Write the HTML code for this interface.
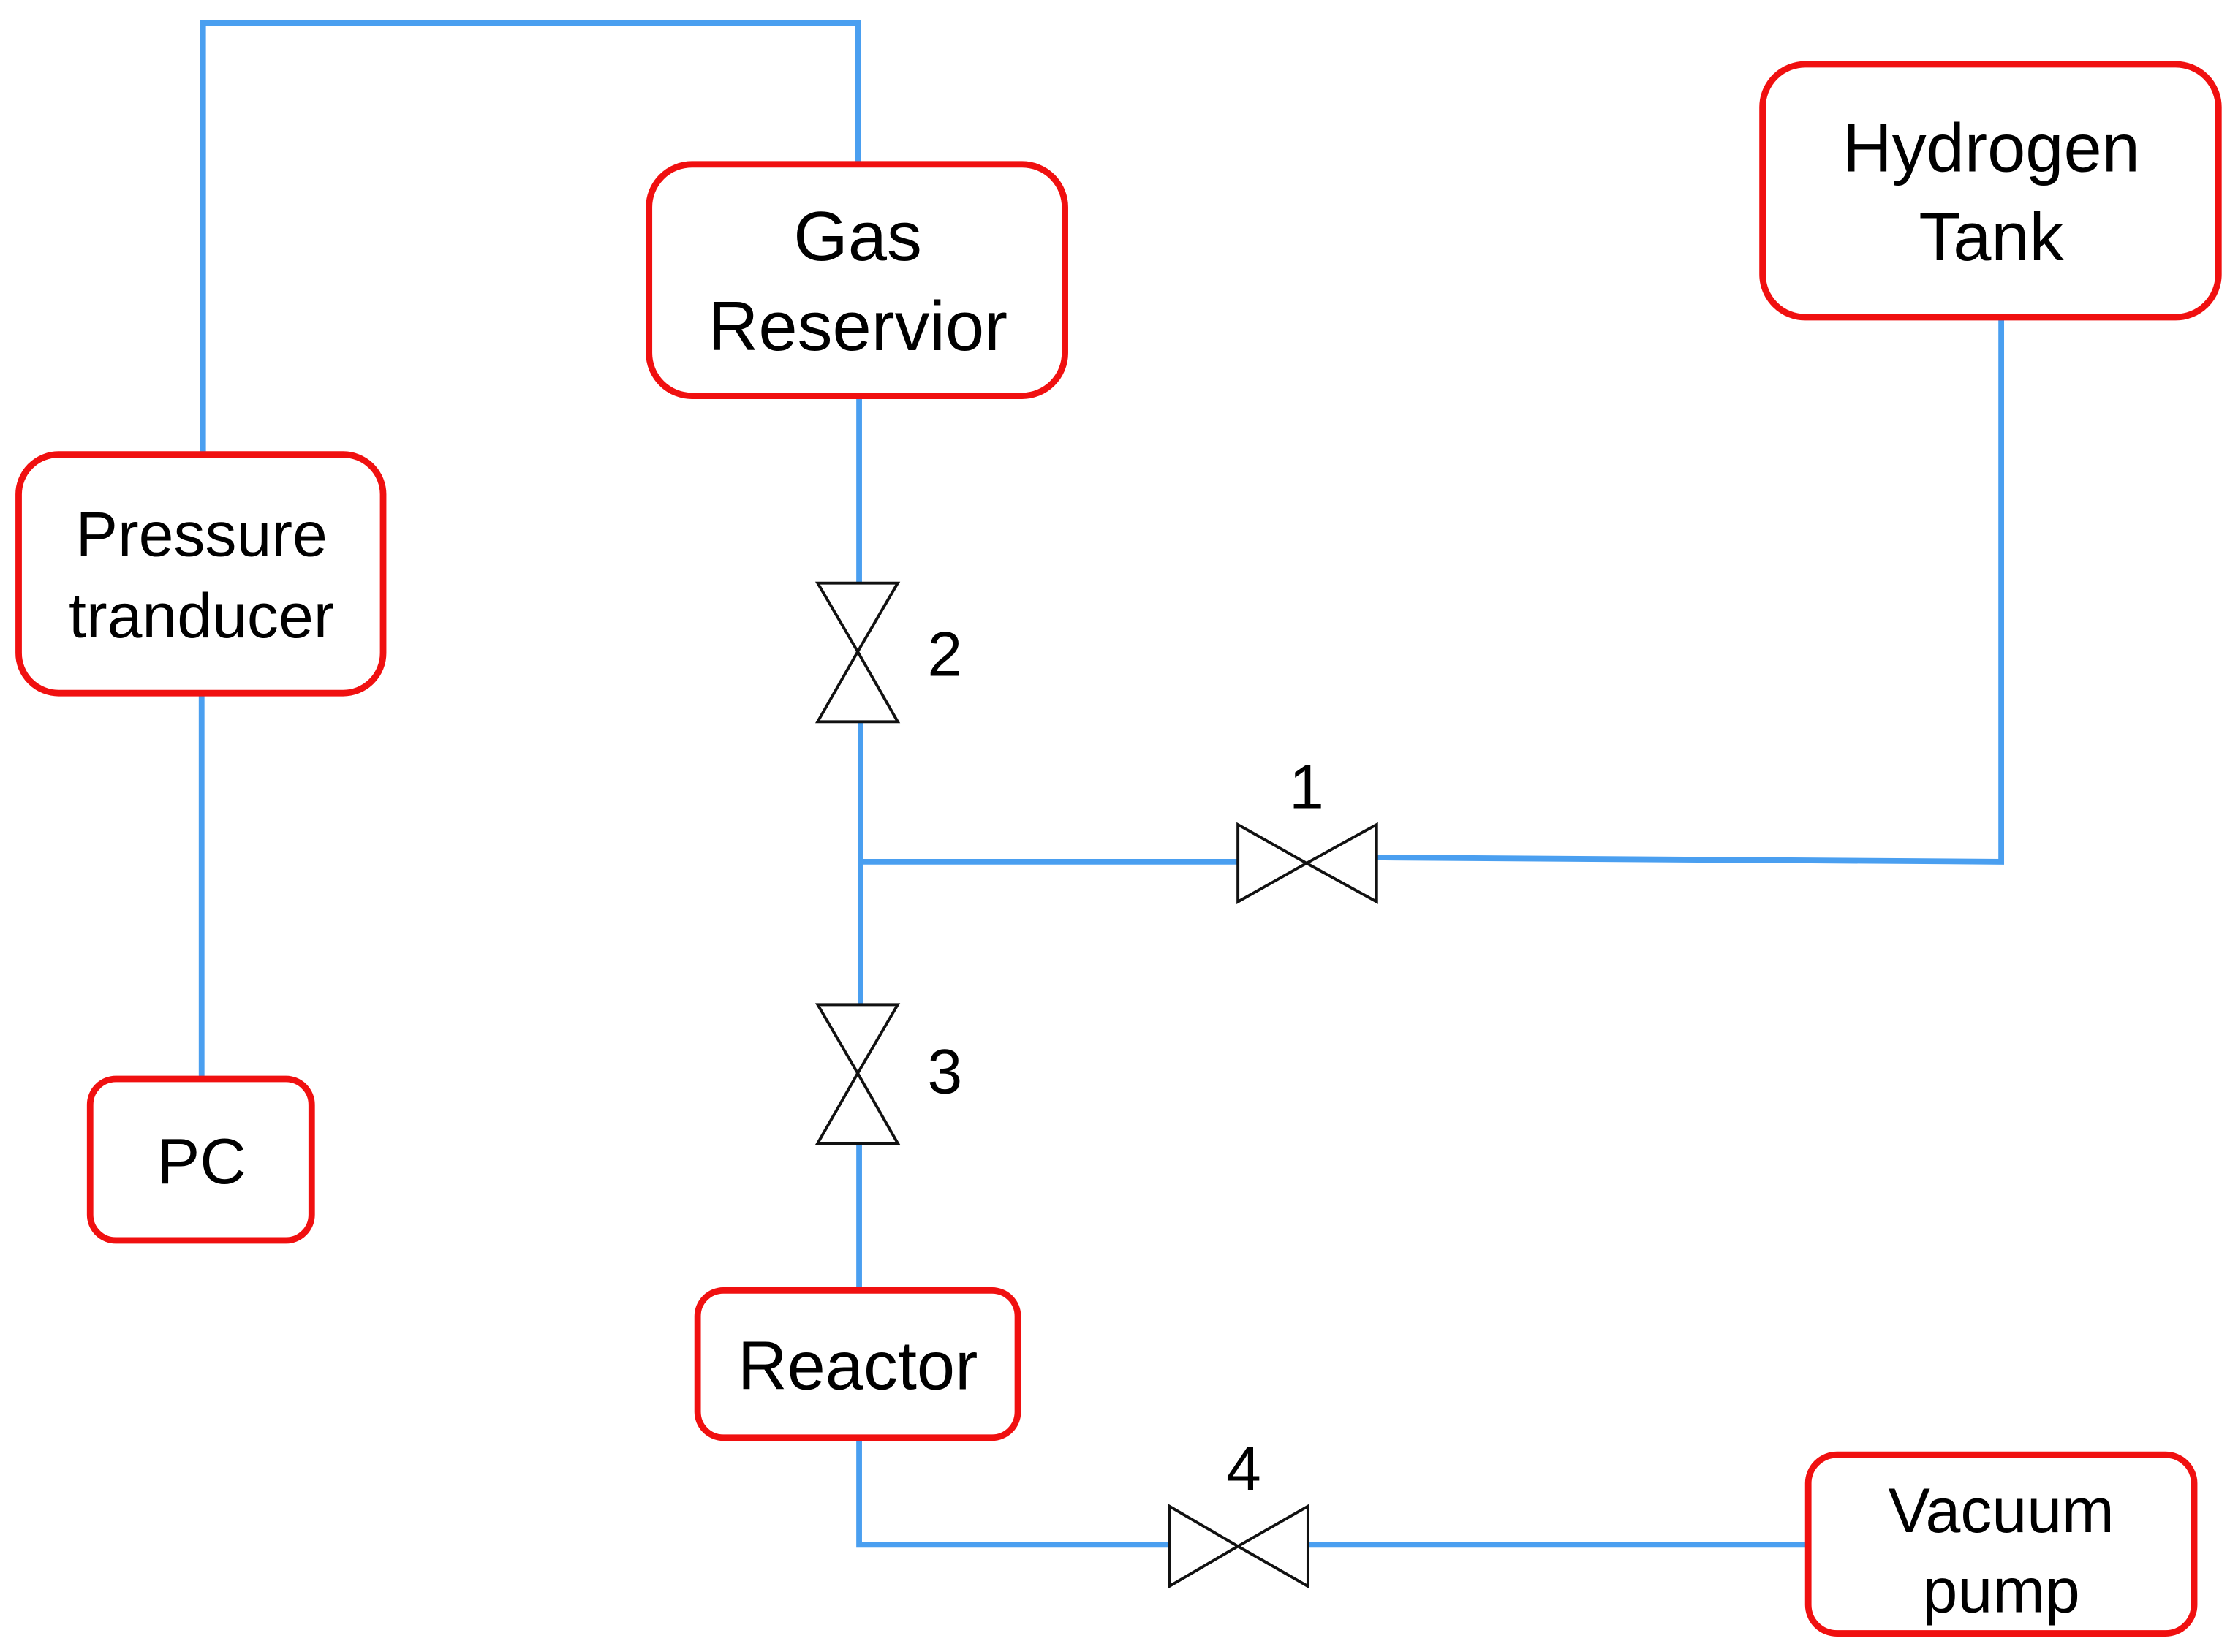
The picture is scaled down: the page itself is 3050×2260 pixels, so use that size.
<!DOCTYPE html>
<html><head><meta charset="utf-8"><style>
html,body{margin:0;padding:0;background:#fff;}
svg{display:block;}
text{font-family:"Liberation Sans",Arial,sans-serif;fill:#000;text-anchor:middle;}
</style></head><body>
<svg width="3050" height="2260" viewBox="0 0 1560 1156" xmlns="http://www.w3.org/2000/svg">
<g stroke="#4a9ff0" stroke-width="4" fill="none">
<polyline points="142,318 142,16 600,16 600,115"/>
<line x1="141" y1="485" x2="141" y2="755"/>
<line x1="601" y1="277" x2="601" y2="408"/>
<line x1="602" y1="505" x2="602" y2="703"/>
<line x1="601" y1="800" x2="601" y2="903"/>
<line x1="602" y1="603" x2="866" y2="603"/>
<polyline points="963,600 1400,603 1400,222"/>
<polyline points="601,1006 601,1081 818,1081"/>
<line x1="915" y1="1081" x2="1265" y2="1081"/>
</g>
<g stroke="#111" stroke-width="2" fill="#fff">
<polygon points="572,408 628,408 600,456"/><polygon points="572,505 628,505 600,456"/>
<polygon points="572,703 628,703 600,751"/><polygon points="572,800 628,800 600,751"/>
<polygon points="866,577 866,631 914,604"/><polygon points="963,577 963,631 914,604"/>
<polygon points="818,1054 818,1110 866,1082"/><polygon points="915,1054 915,1110 866,1082"/>
</g>
<g stroke="#f01010" stroke-width="4.5" fill="#fff">
<rect x="454" y="115" width="291" height="162" rx="30"/>
<rect x="1233" y="45" width="319" height="177" rx="30"/>
<rect x="13" y="318" width="255" height="167" rx="28"/>
<rect x="63" y="755" width="155" height="113" rx="18"/>
<rect x="488" y="903" width="224" height="103" rx="18"/>
<rect x="1265" y="1018" width="270" height="125" rx="20"/>
</g>
<g font-size="49">
<text x="600" y="182">Gas</text>
<text x="600" y="245">Reservior</text>
<text x="1393" y="120" font-size="48">Hydrogen</text>
<text x="1393" y="182" font-size="48">Tank</text>
<text x="141" y="389" font-size="44">Pressure</text>
<text x="141" y="446" font-size="44">tranducer</text>
<text x="141" y="828" font-size="45">PC</text>
<text x="600" y="972" font-size="48">Reactor</text>
<text x="1400" y="1072" font-size="44">Vacuum</text>
<text x="1400" y="1128" font-size="44">pump</text>
</g>
<g font-size="44">
<text x="661" y="473">2</text>
<text x="914" y="566">1</text>
<text x="661" y="765">3</text>
<text x="870" y="1043">4</text>
</g>
</svg>
</body></html>
